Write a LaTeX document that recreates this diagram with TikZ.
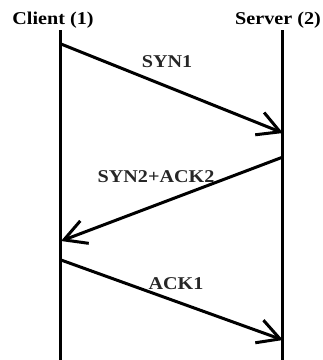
\documentclass[tikz,border=0pt]{standalone}
\usepackage{fontspec}
\setmainfont{Liberation Serif}
\usetikzlibrary{arrows.meta}
\begin{document}
\begin{tikzpicture}[x=1pt,y=-1pt,
  lifeline/.style={line width=3pt},
  msg/.style={line width=3pt,-{Straight Barb[length=22pt,width=24pt,line width=3pt]}},
  head/.style={font=\bfseries\fontsize{18}{18}\selectfont,xscale=1.12,inner sep=0pt},
  lbl/.style={font=\bfseries\fontsize{18}{18}\selectfont,xscale=1.12,inner sep=0pt,text=black!85}]
  \useasboundingbox (0,0) rectangle (323,360);
  % participants
  \node[head] (client) at (53,20) {Client (1)};
  \node[head] (server) at (278,20) {Server (2)};
  \coordinate (ctop) at (61,30);
  \coordinate (cbot) at (61,361);
  \coordinate (stop) at (283,30);
  \coordinate (sbot) at (283,361);
  \draw[lifeline] (ctop) -- (cbot);
  \draw[lifeline] (stop) -- (sbot);
  % message endpoints
  \coordinate (c1) at (61,44);
  \coordinate (s1) at (283,133);
  \coordinate (s2) at (283,157);
  \coordinate (c2) at (61,241);
  \coordinate (c3) at (61,260);
  \coordinate (s3) at (283,340);
  % messages
  \draw[msg] (c1) -- (s1);
  \draw[msg] (s2) -- (c2);
  \draw[msg] (c3) -- (s3);
  % message labels
  \node[lbl] (syn1) at (167,62) {SYN1};
  \node[lbl] (syn2) at (156,177) {SYN2+ACK2};
  \node[lbl] (ack1) at (176,284) {ACK1};
\end{tikzpicture}
\end{document}
